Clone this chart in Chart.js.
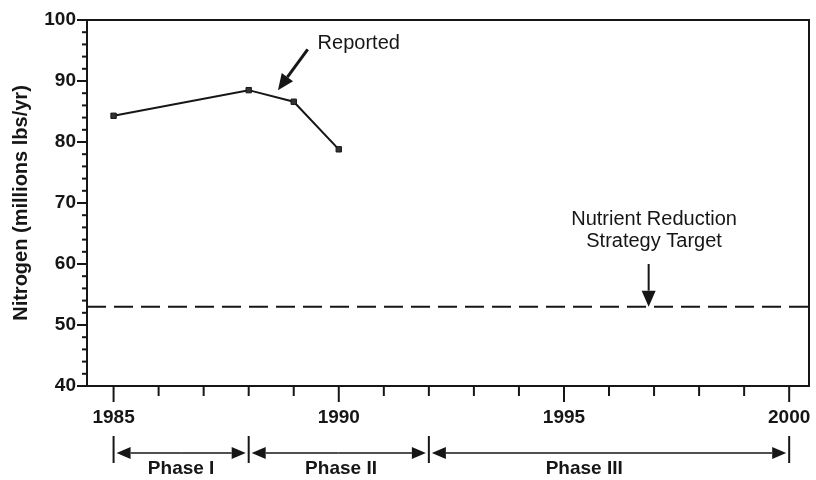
<!DOCTYPE html>
<html>
<head>
<meta charset="utf-8">
<script src="https://cdn.jsdelivr.net/npm/chart.js@4"></script>
<style>
html, body { margin: 0; padding: 0; background: #fff; }
</style>
</head>
<body>
<canvas id="nitrogenChart" width="816" height="480"></canvas>
<script>
// Reported nitrogen loads
var years = [1985, 1988, 1989, 1990];
var reported = [84.3, 88.5, 86.6, 78.8];

// Nutrient reduction strategy target (spans the whole axis)
var targetYears = [1984.41, 2000.44];
var targetValues = [53, 53];

// Axis ranges and labels
var xRange = [1984.41, 2000.44];
var yRange = [40, 100];
var yearLabels = [1985, 1990, 1995, 2000];

// Phases under the axis
var phaseNames = ['Phase I', 'Phase II', 'Phase III'];
var phaseStarts = [1985, 1988, 1992];
var phaseEnds = [1988, 1992, 2000];
var phaseLabelAt = [1986.5, 1990.05, 1995.45];

var ink = '#161616';
var font = '"Liberation Sans", Arial, Helvetica, sans-serif';

function toPoints(xs, ys) {
    return xs.map(function(x, i) { return { x: x, y: ys[i] }; });
}

function line(ctx, x1, y1, x2, y2) {
    ctx.beginPath();
    ctx.moveTo(x1, y1);
    ctx.lineTo(x2, y2);
    ctx.stroke();
}

// line from (x1,y1) with a filled head at (x2,y2)
function arrow(ctx, x1, y1, x2, y2, len, half) {
    var ang = Math.atan2(y2 - y1, x2 - x1);
    var bx = x2 - len * Math.cos(ang), by = y2 - len * Math.sin(ang);
    line(ctx, x1, y1, bx, by);
    ctx.beginPath();
    ctx.moveTo(x2, y2);
    ctx.lineTo(bx + half * Math.sin(ang), by - half * Math.cos(ang));
    ctx.lineTo(bx - half * Math.sin(ang), by + half * Math.cos(ang));
    ctx.closePath();
    ctx.fill();
}

var annotate = {
    id: 'annotate',
    afterDraw: function(chart) {
        var ctx = chart.ctx, xs = chart.scales.x, ys = chart.scales.y, a = chart.chartArea;
        ctx.save();
        ctx.strokeStyle = ink;
        ctx.fillStyle = ink;
        ctx.lineWidth = 2;

        // frame
        ctx.strokeRect(a.left, a.top, a.right - a.left, a.bottom - a.top);

        // y ticks
        ys.ticks.forEach(function(t) {
            var y = ys.getPixelForValue(t.value);
            var major = t.value % 10 === 0;
            line(ctx, a.left - (major ? 10 : 5), y, a.left, y);
        });

        // x ticks
        xs.ticks.forEach(function(t) {
            var x = xs.getPixelForValue(t.value);
            var major = yearLabels.indexOf(t.value) >= 0;
            line(ctx, x, a.bottom, x, a.bottom + (major ? 16 : 10));
        });

        // "Reported" callout
        ctx.font = '20px ' + font;
        ctx.textAlign = 'left';
        ctx.textBaseline = 'middle';
        ctx.fillText('Reported', xs.getPixelForValue(1989.53), ys.getPixelForValue(96.2));
        ctx.lineWidth = 3;
        arrow(ctx, xs.getPixelForValue(1989.31), ys.getPixelForValue(95.2),
              xs.getPixelForValue(1988.65), ys.getPixelForValue(88.5), 16, 7);

        // target callout
        ctx.textAlign = 'center';
        var tx = xs.getPixelForValue(1997.0);
        ctx.fillText('Nutrient Reduction', tx, ys.getPixelForValue(67.3));
        ctx.fillText('Strategy Target', tx, ys.getPixelForValue(63.7));
        ctx.lineWidth = 2;
        var ax = xs.getPixelForValue(1996.88);
        arrow(ctx, ax, ys.getPixelForValue(60), ax, ys.getPixelForValue(53), 16, 7);

        // phases
        var yArrow = 453, yTop = 436, yBot = 463;
        ctx.lineWidth = 2;
        var bounds = [phaseStarts[0]].concat(phaseEnds);
        bounds.forEach(function(b) {
            var x = xs.getPixelForValue(b);
            line(ctx, x, yTop, x, yBot);
        });
        ctx.lineWidth = 1.5;
        ctx.font = 'bold 19px ' + font;
        ctx.textBaseline = 'middle';
        phaseNames.forEach(function(name, i) {
            var x1 = xs.getPixelForValue(phaseStarts[i]) + 3;
            var x2 = xs.getPixelForValue(phaseEnds[i]) - 3;
            var mid = (x1 + x2) / 2;
            arrow(ctx, mid, yArrow, x1, yArrow, 14, 6);
            arrow(ctx, mid, yArrow, x2, yArrow, 14, 6);
            ctx.fillText(name, xs.getPixelForValue(phaseLabelAt[i]), 469);
        });
        ctx.restore();
    }
};

var ctx = document.getElementById('nitrogenChart').getContext('2d');
var nitrogenChart = new Chart(ctx, {
    type: 'line',
    data: {
        datasets: [{
            label: 'Reported',
            data: toPoints(years, reported),
            borderColor: ink,
            backgroundColor: ink,
            borderWidth: 2,
            pointStyle: 'rect',
            pointRadius: 3.8,
            pointBackgroundColor: '#333',
            pointBorderColor: ink,
            pointBorderWidth: 1,
            tension: 0
        }, {
            label: 'Nutrient Reduction Strategy Target',
            data: toPoints(targetYears, targetValues),
            borderColor: ink,
            borderWidth: 2,
            borderDash: [19, 8],
            pointRadius: 0,
            tension: 0
        }]
    },
    options: {
        responsive: false,
        animation: false,
        layout: { padding: { left: 0, top: 20, right: 7, bottom: 44 } },
        plugins: {
            legend: { display: false },
            tooltip: { enabled: false }
        },
        scales: {
            x: {
                type: 'linear',
                min: xRange[0],
                max: xRange[1],
                grid: { display: false, drawTicks: false },
                border: { display: false },
                ticks: {
                    stepSize: 1,
                    includeBounds: false,
                    autoSkip: false,
                    maxRotation: 0,
                    padding: 20,
                    color: ink,
                    font: { family: font, size: 19, weight: 'bold' },
                    callback: function(v) { return yearLabels.indexOf(v) >= 0 ? String(v) : ''; }
                },
                afterFit: function(scale) {
                    scale.height = 50;
                    scale.paddingLeft = 0;
                    scale.paddingRight = 0;
                }
            },
            y: {
                min: yRange[0],
                max: yRange[1],
                grid: { display: false, drawTicks: false },
                border: { display: false },
                title: {
                    display: true,
                    text: 'Nitrogen (millions lbs/yr)',
                    color: ink,
                    font: { family: font, size: 20, weight: 'bold' },
                    padding: { top: 9, bottom: 0 }
                },
                ticks: {
                    stepSize: 2,
                    autoSkip: false,
                    padding: 11,
                    color: ink,
                    font: { family: font, size: 19, weight: 'bold' },
                    callback: function(v) { return v % 10 === 0 ? String(v) : ''; }
                },
                afterFit: function(scale) {
                    scale.width = 87;
                    scale.paddingTop = 0;
                    scale.paddingBottom = 0;
                }
            }
        }
    },
    plugins: [annotate]
});
</script>
</body>
</html>
